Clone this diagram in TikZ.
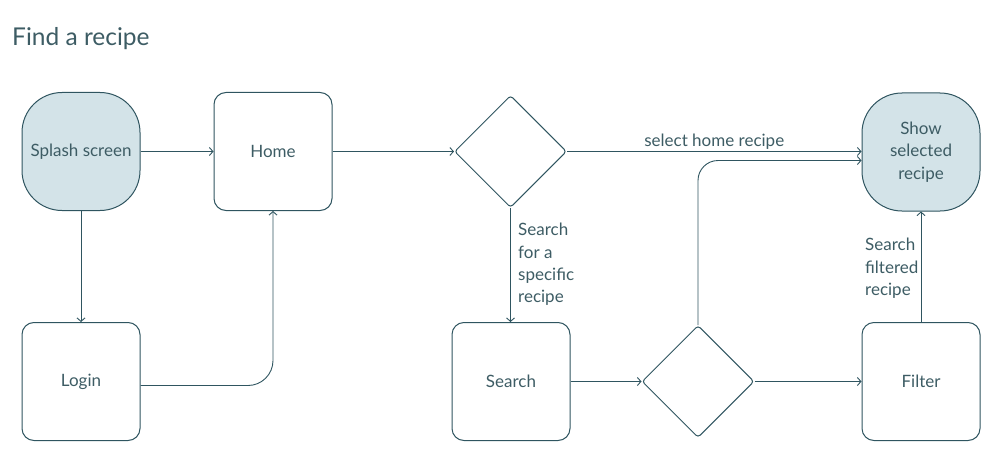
\documentclass[tikz,border=0pt]{standalone}
\usepackage{fontspec}
\setmainfont{Lato}
\usetikzlibrary{arrows.meta,shapes.geometric}
\definecolor{ink}{HTML}{2F5560}
\definecolor{txt}{HTML}{3D5C64}
\definecolor{soft}{HTML}{D3E3E8}
\begin{document}
\begin{tikzpicture}[x=1pt,y=-1pt,
  every node/.style={text=txt,font=\fontsize{17}{22.3}\selectfont},
  box/.style={draw=ink,line width=1pt,minimum width=118pt,minimum height=118pt,inner sep=0pt,rounded corners=12pt,align=center},
  pill/.style={box,fill=soft,rounded corners=40pt},
  dec/.style={draw=ink,line width=1pt,diamond,aspect=1,minimum width=112pt,minimum height=112pt,inner sep=0pt,rounded corners=3pt},
  arr/.style={draw=ink,line width=0.9pt,-{Straight Barb[length=3.5pt,width=8pt]}},
  lbl/.style={align=left,inner sep=0pt}]
\useasboundingbox (0,0) rectangle (991,460);
\node[anchor=base west,inner sep=0pt,font=\fontsize{24.5}{28}\selectfont] (title) at (12,46) {Find a recipe};
\node[pill] (splash) at (81,151.5) {Splash screen};
\node[box] (home) at (273,151.5) {Home};
\node[dec] (d1) at (510.5,151.5) {};
\node[pill] (show) at (921,152) {Show\\selected\\recipe};
\node[box] (login) at (81,381.5) {Login};
\node[box] (search) at (511,381.5) {Search};
\node[dec] (d2) at (698,381.5) {};
\node[box] (filter) at (921,381.5) {Filter};
\draw[arr] (splash) -- (home);
\draw[arr] (home) -- (d1);
\draw[arr] (d1) -- node[above,inner sep=2pt] (l1) {select home recipe} ([yshift=0.5pt]show.west);
\draw[arr] (splash) -- (login);
\draw[arr] (d1) -- (search.north -| d1);
\node[lbl,anchor=north west] (l2) at (518,223) {Search\\for a\\specific\\recipe};
\draw[arr,rounded corners=25pt] ([yshift=-4pt]login.east) -| (home.south);
\draw[arr] (search) -- (d2);
\draw[arr] (d2) -- (filter);
\draw[arr,rounded corners=20pt] (d2.north) |- ([yshift=-8.5pt]show.west);
\draw[arr] (filter) -- (show);
\node[lbl,anchor=north west] (l3) at (865,238) {Search\\filtered\\recipe};
\end{tikzpicture}
\end{document}
